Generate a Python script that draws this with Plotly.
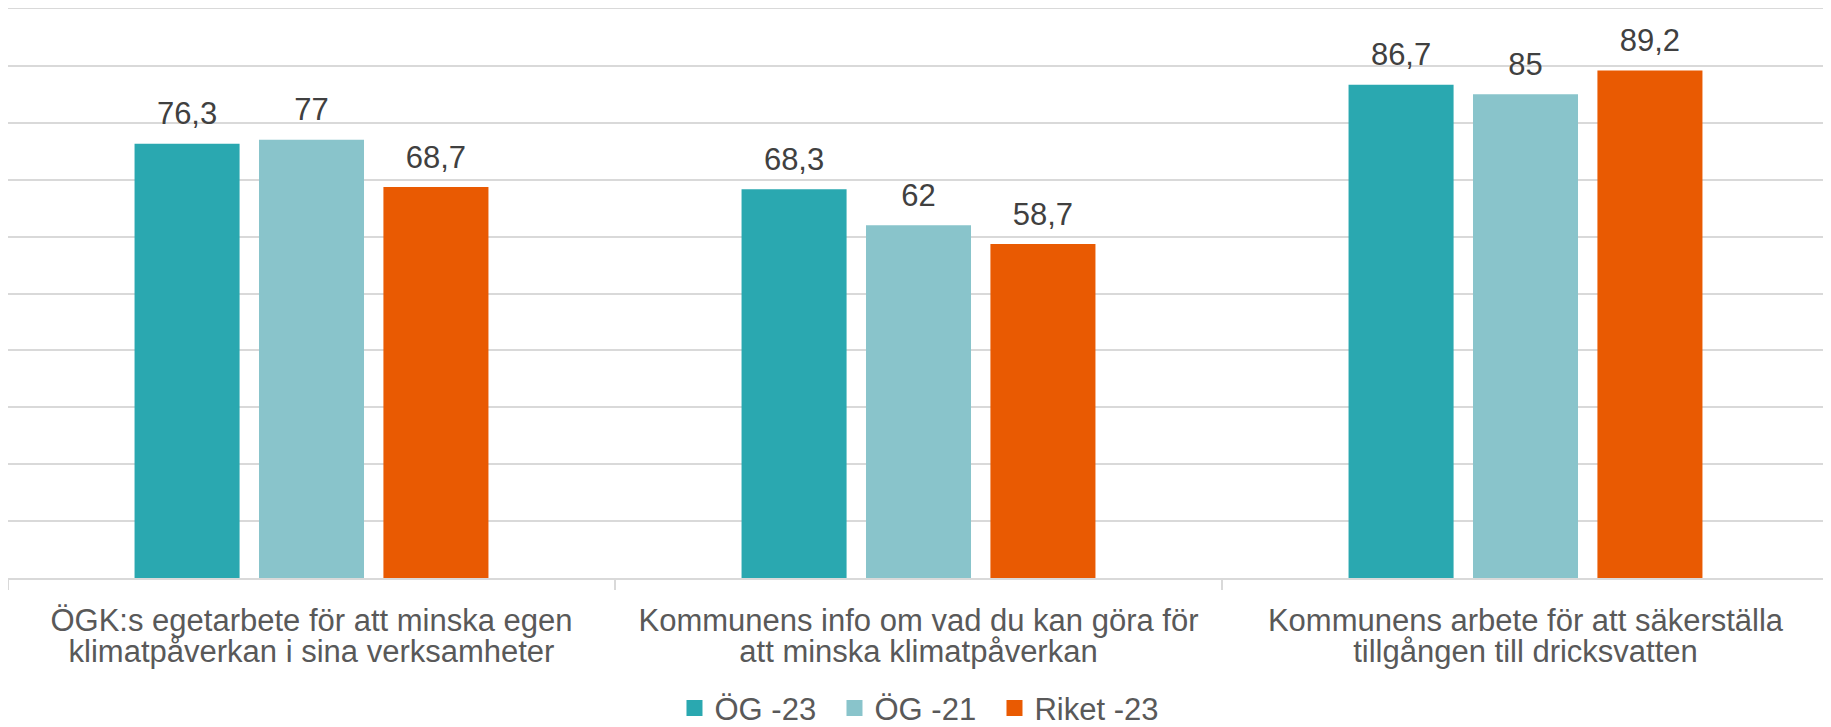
import plotly.graph_objects as go

categories = [
    "ÖGK:s egetarbete för att minska egen klimatpåverkan i sina verksamheter",
    "Kommunens info om vad du kan göra för att minska klimatpåverkan",
    "Kommunens arbete för att säkerställa tillgången till dricksvatten",
]
tick_line1 = [
    "ÖGK:s egetarbete för att minska egen",
    "Kommunens info om vad du kan göra för",
    "Kommunens arbete för att säkerställa",
]
tick_line2 = [
    "klimatpåverkan i sina verksamheter",
    "att minska klimatpåverkan",
    "tillgången till dricksvatten",
]
series_names = ["ÖG -23", "ÖG -21", "Riket -23"]
og23 = [76.3, 68.3, 86.7]
og21 = [77, 62, 85]
riket23 = [68.7, 58.7, 89.2]
colors = ["#2aa8b0", "#89c4cb", "#e95a02"]

series_values = [og23, og21, riket23]

def fmt(v):
    s = ("%.1f" % v).rstrip("0").rstrip(".")
    return s.replace(".", ",")

fig = go.Figure()
for name, vals, col in zip(series_names, series_values, colors):
    fig.add_trace(go.Bar(
        x=categories, y=vals, name=name, marker_color=col,
        marker_line_width=0, offsetgroup=name, showlegend=False,
    ))
for name, vals in zip(series_names, series_values):
    fig.add_trace(go.Scatter(
        x=categories, y=vals, mode="markers+text", showlegend=False,
        text=[fmt(v) for v in vals], textposition="top center",
        marker=dict(size=17, color="rgba(0,0,0,0)"),
        textfont=dict(size=31, color="#404040", family="Arial"),
        offsetgroup=name, hoverinfo="skip", cliponaxis=False,
    ))
# legend entries (square swatches)
for i, (name, col) in enumerate(zip(series_names, colors)):
    fig.add_trace(go.Scatter(
        x=[None], y=[None], mode="markers", name=name, offsetgroup=name,
        marker=dict(symbol="square", size=16, color=col),
        legendwidth=115 if i < len(series_names) - 1 else None,
    ))
# second label row on an overlaid category axis
fig.add_trace(go.Scatter(
    x=categories, y=[None] * len(categories), xaxis="x2", mode="markers",
    showlegend=False, hoverinfo="skip",
))

# the page body has an 8px margin, so the figure is sized to fit the window
fig.update_layout(
    width=1823, height=719,
    margin=dict(l=0, r=2, t=1, b=149, autoexpand=False),
    plot_bgcolor="white", paper_bgcolor="white",
    barmode="group", scattermode="group",
    bargap=0.385, bargroupgap=0.156, scattergap=0.385,
    font=dict(family="Arial", color="#595959", size=31),
    legend=dict(orientation="h", x=0.366, xanchor="left", y=-0.229, yanchor="middle",
                font=dict(size=31, color="#595959"), itemwidth=30,
                tracegroupgap=0, itemsizing="trace"),
    showlegend=True,
    xaxis2=dict(overlaying="x", anchor="y", side="bottom", matches="x",
                type="category", categoryarray=categories, categoryorder="array",
                tickvals=categories, ticktext=tick_line2,
                showline=False, ticks="", showgrid=False, automargin=False,
                tickfont=dict(size=31, color="#595959"), ticklabelstandoff=52),
)
fig.layout.xaxis.update(
    type="category", categoryarray=categories, categoryorder="array",
    tickvals=categories, ticktext=tick_line1,
    showline=True, mirror=True, linecolor="#d9d9d9", linewidth=2,
    ticks="outside", tickson="boundaries", ticklen=10, tickcolor="#d9d9d9", tickwidth=2,
    tickfont=dict(size=31, color="#595959"), ticklabelstandoff=14,
    showgrid=False, automargin=False,
)
fig.update_yaxes(
    range=[0, 100], dtick=10, showticklabels=False, automargin=False,
    showgrid=True, gridcolor="#d9d9d9", gridwidth=2, zeroline=False,
)

fig.write_html("out.html")
